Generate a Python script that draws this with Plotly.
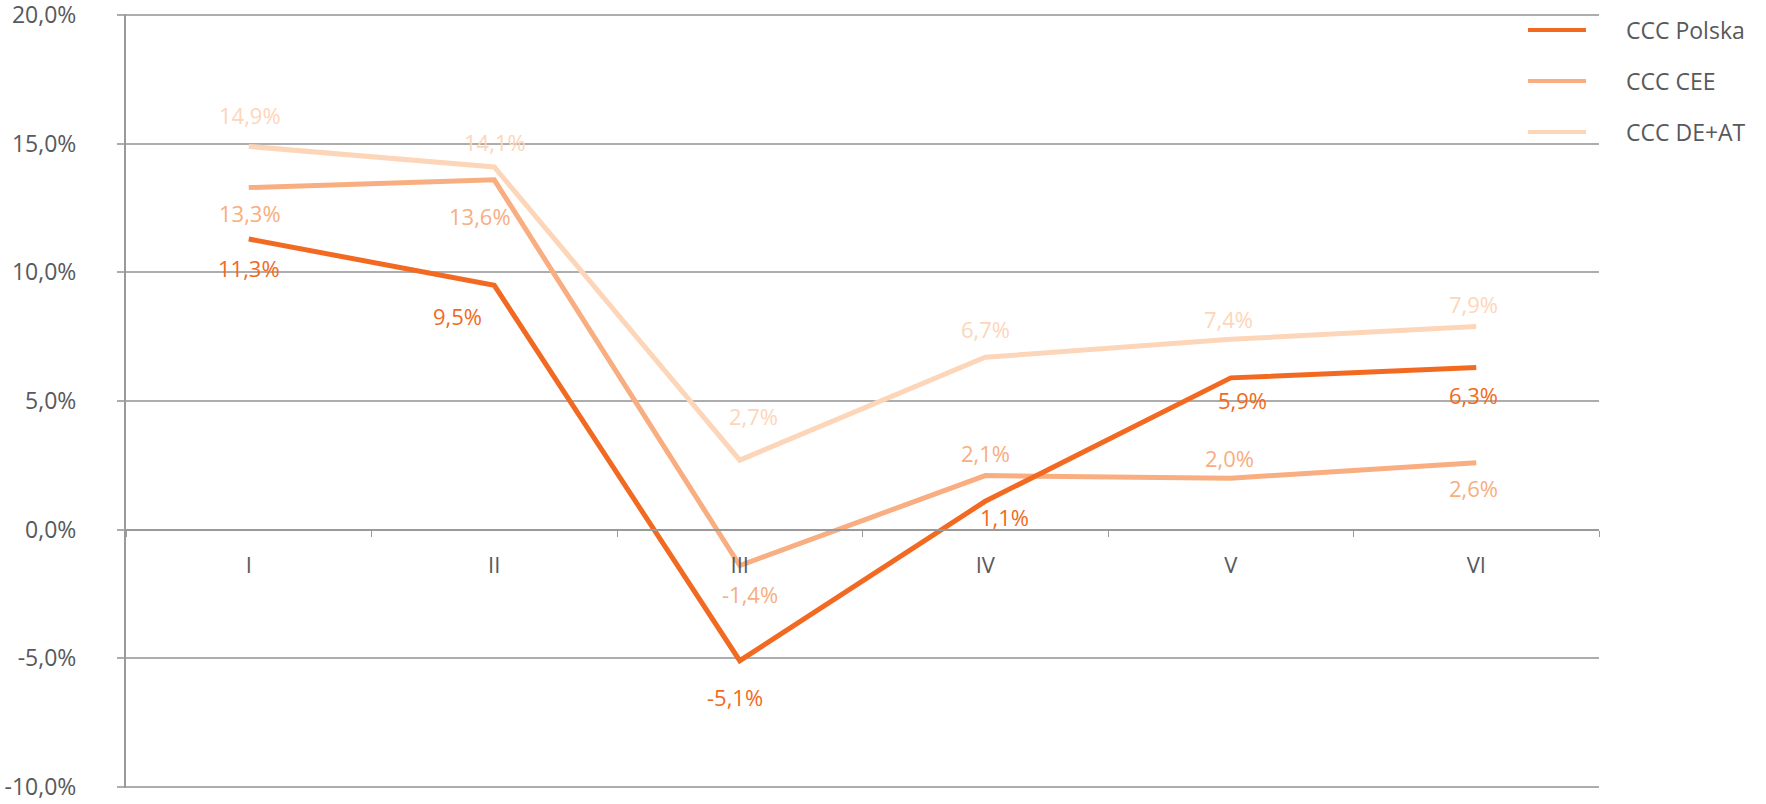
import plotly.graph_objects as go

# Monthly change by market, months I-VI
months = ["I", "II", "III", "IV", "V", "VI"]
polska = [11.3, 9.5, -5.1, 1.1, 5.9, 6.3]
cee = [13.3, 13.6, -1.4, 2.1, 2.0, 2.6]
de_at = [14.9, 14.1, 2.7, 6.7, 7.4, 7.9]
y_ticks = [-10, -5, 0, 5, 10, 15, 20]

series_names = ["CCC Polska", "CCC CEE", "CCC DE+AT"]
series_values = [polska, cee, de_at]
series_colors = ["#F26A21", "#F8AE80", "#FDD6BA"]

# Pixel offsets (dx, dy) for each value label, dy positive = up
label_offsets = [
    [(0, -29), (-37, -31), (-5, -36), (19, -16), (12, -22), (-3, -27)],
    [(1, -25), (-14, -36), (10, -28), (0, 23), (-1, 20), (-3, -25)],
    [(1, 31), (1, 25), (14, 44), (0, 28), (-2, 20), (-3, 22)],
]

W, H = 1766, 804
L, R, T, B = 126, 167, 14, 16
Y_RANGE = [-10.05, 20.05]
FONT = "Open Sans"
TEXT_GREY = "#58595B"
AXIS_GREY = "#9A9A9A"
GRID_GREY = "#ADADAD"


def pct(v):
    return f"{v:.1f}".replace(".", ",") + "%"


def px_x(px):
    return (px - L) / (W - L - R)


def px_y(py):
    return 1 - (py - T) / (H - T - B)


fig = go.Figure()

# draw back-to-front so the Polska line sits on top
for idx in [2, 1, 0]:
    fig.add_trace(go.Scatter(
        x=months, y=series_values[idx], mode="lines",
        name=series_names[idx],
        line=dict(color=series_colors[idx], width=5),
        showlegend=False, hoverinfo="skip",
    ))

annotations = []
for idx, vals in enumerate(series_values):
    for m, v, (dx, dy) in zip(months, vals, label_offsets[idx]):
        annotations.append(dict(
            x=m, y=v, xref="x", yref="y", text=pct(v), showarrow=False,
            xshift=dx, yshift=dy,
            font=dict(family=FONT, size=22, color=series_colors[idx]),
        ))

# legend: short line sample plus label
shapes = []
legend_rows = [30, 81, 132]
for idx, row in enumerate(legend_rows):
    shapes.append(dict(
        type="line", xref="paper", yref="paper",
        x0=px_x(1528), x1=px_x(1586), y0=px_y(row), y1=px_y(row),
        line=dict(color=series_colors[idx], width=4),
    ))
    annotations.append(dict(
        x=px_x(1624), y=px_y(row), xref="paper", yref="paper",
        text=series_names[idx], showarrow=False, xanchor="left", yanchor="middle",
        font=dict(family=FONT, size=23, color=TEXT_GREY),
    ))

# the category axis sits on the 0 line
zero_pos = (0 - Y_RANGE[0]) / (Y_RANGE[1] - Y_RANGE[0])

fig.update_layout(
    width=W, height=H,
    margin=dict(l=L, r=R, t=T, b=B, pad=0),
    paper_bgcolor="white", plot_bgcolor="white",
    showlegend=False,
    annotations=annotations,
    shapes=shapes,
    font=dict(family=FONT, color=TEXT_GREY),
)

fig.update_xaxes(
    type="category", range=[-0.5, 5.5], automargin=False,
    anchor="free", position=zero_pos,
    showline=True, linecolor=AXIS_GREY, linewidth=2,
    ticks="outside", tickson="boundaries", ticklen=6, tickwidth=1, tickcolor=AXIS_GREY,
    showgrid=False, zeroline=False,
    tickfont=dict(family=FONT, size=22, color=TEXT_GREY),
    ticklabelstandoff=16,
)

fig.update_yaxes(
    range=Y_RANGE, automargin=False,
    tickmode="array", tickvals=y_ticks, ticktext=[pct(t) for t in y_ticks],
    showline=True, linecolor=AXIS_GREY, linewidth=2,
    ticks="outside", ticklen=7, tickwidth=1.5, tickcolor=GRID_GREY,
    showgrid=True, gridcolor=GRID_GREY, gridwidth=1.5,
    zeroline=False,
    tickfont=dict(family=FONT, size=23, color=TEXT_GREY),
    ticklabelstandoff=36, ticklabeloverflow="allow",
)

fig.write_html("out.html")
